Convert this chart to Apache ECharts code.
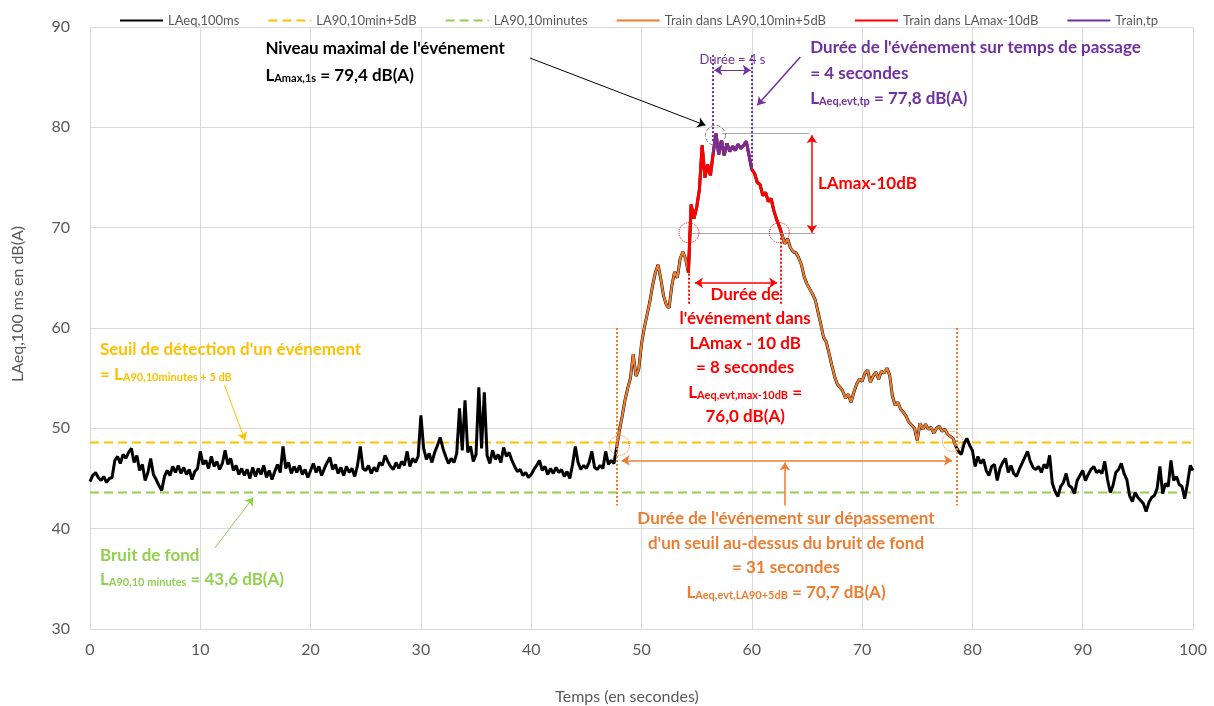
<!DOCTYPE html>
<html>
<head>
<meta charset="utf-8">
<script src="https://cdn.jsdelivr.net/npm/echarts@6/dist/echarts.min.js"></script>
<style>
  html, body { margin: 0; padding: 0; background: #fff; }
  #main { width: 1214px; height: 706px; }
</style>
</head>
<body>
<div id="main"></div>
<script>
  // LAeq,100ms, un point toutes les 0,25 s (de 0 à 100 s)
  var step = 0.25;
  var laeq = [
    44.7,45.3,45.6,45.1,44.8,45.2,44.6,45.0,45.1,46.8,47.2,46.5,47.4,47.0,47.6,48.0,46.6,47.3,45.8,46.4,
    44.8,45.6,47.0,45.4,44.9,44.3,43.8,45.2,45.8,45.3,46.2,45.6,46.3,45.5,46.1,45.4,45.9,44.9,45.7,46.0,
    47.7,46.4,46.8,46.0,47.2,46.2,46.7,45.9,46.5,47.8,46.4,47.0,45.8,46.3,45.4,46.0,45.3,45.9,45.0,46.1,
    45.2,46.0,45.4,46.3,45.1,45.8,44.9,45.7,46.4,45.6,48.2,46.0,46.6,45.5,46.2,45.6,46.3,45.4,45.9,45.1,
    45.8,46.5,45.6,46.2,45.3,46.0,46.6,47.1,45.9,46.4,45.5,46.1,45.3,46.2,45.6,46.0,45.2,46.3,48.2,46.0,
    45.8,46.3,45.5,46.1,45.7,46.6,46.3,47.3,46.7,46.2,45.9,46.6,46.0,46.7,46.3,47.7,46.2,47.0,46.6,47.2,
    51.3,48.0,46.9,47.5,46.6,47.6,48.3,49.1,48.0,47.2,46.5,47.0,46.6,47.5,52.0,47.8,52.8,47.6,48.2,46.7,
    47.4,54.1,48.0,53.6,47.3,46.5,47.8,46.9,47.4,46.6,48.1,47.2,47.6,46.8,46.2,45.7,45.9,45.3,45.6,45.1,
    45.4,45.9,46.3,46.8,45.8,46.2,45.4,46.0,45.5,46.1,45.6,45.9,45.2,45.7,45.0,46.4,48.2,46.6,45.9,46.3,
    46.0,46.6,47.7,46.1,45.9,46.3,46.0,47.7,46.4,46.8,46.5,48.1,49.8,51.2,52.8,54.0,55.0,57.4,55.2,55.9,
    58.4,60.0,61.3,62.6,64.2,65.5,66.3,64.9,63.2,62.3,62.0,64.2,65.6,65.0,66.9,67.6,66.9,65.5,72.3,70.9,
    72.0,73.8,78.2,75.0,76.3,75.2,77.4,79.4,77.3,78.7,77.2,78.4,77.6,78.1,77.7,78.3,77.9,78.2,78.6,77.2,
    75.8,75.4,74.5,74.3,73.2,73.5,72.6,72.9,71.7,70.8,70.1,69.3,68.4,68.9,68.0,67.6,67.5,67.0,66.3,65.1,
    64.4,63.9,63.4,62.8,61.6,60.4,59.1,58.6,57.5,56.3,55.2,54.4,54.1,53.7,53.0,53.4,52.6,53.6,54.4,54.9,
    54.7,55.5,55.8,54.6,55.2,55.6,54.9,55.7,55.5,56.0,55.3,53.2,52.3,52.6,51.9,51.6,51.2,50.6,50.3,50.0,
    48.8,50.5,49.9,50.4,49.9,50.1,49.5,50.0,50.2,49.7,49.9,49.4,49.2,49.0,48.2,47.7,47.4,48.5,49.0,48.3,
    47.8,46.2,47.2,46.5,46.9,45.8,45.3,46.2,46.4,44.8,46.0,46.6,47.0,45.6,46.3,45.5,45.2,45.9,46.5,47.1,
    47.7,46.7,46.1,45.9,46.2,45.6,46.4,46.0,47.3,44.5,43.7,43.2,44.2,44.6,45.5,44.3,44.1,43.5,44.8,45.3,
    45.8,44.8,45.4,45.9,46.2,45.6,45.8,45.5,46.7,44.9,43.6,44.3,45.6,45.9,46.5,45.5,44.9,43.3,42.7,43.6,
    43.1,42.8,42.5,41.7,42.6,43.1,43.3,44.0,46.2,43.5,44.5,44.2,46.8,44.8,45.2,44.4,44.2,43.0,44.5,46.3,
    45.8
  ];
  var la90 = 43.6;          // bruit de fond
  var seuil = 48.6;         // LA90 + 5 dB
  // bornes des trois "trains" (en secondes)
  var trainSeuil = [47.75, 78.5];
  var trainMax = [54.25, 62.75];
  var trainTp = [56.5, 60.0];

  var legendNames = ['LAeq,100ms', 'LA90,10min+5dB', 'LA90,10minutes',
    'Train dans LA90,10min+5dB', 'Train dans LAmax-10dB', 'Train,tp'];

  function pts(from, to) {
    var out = [];
    for (var i = 0; i < laeq.length; i++) {
      var t = i * step;
      if (t >= from - 1e-6 && t <= to + 1e-6) out.push([t, laeq[i]]);
    }
    return out;
  }

  var YEL = '#FFC000', GRN = '#92D050', ORA = '#ED7D31', RED = '#FF0000', PUR = '#7030A0';
  var FONT = 'Lato';

  // flèches et pointillés d'annotation (coordonnées t, dB)
  var arrows = [
    [[39.9, 86.9], [55.8, 80.2], '#000', 'solid', 1, 'end'],
    [[64.4, 87.0], [60.5, 82.2], PUR, 'solid', 1.5, 'end'],
    [[56.5, 87.2], [56.5, 78.6], PUR, 'dotted', 2, 'none'],
    [[60.0, 87.2], [60.0, 76.0], PUR, 'dotted', 2, 'none'],
    [[56.6, 85.7], [59.9, 85.7], PUR, 'solid', 1, 'both'],
    [[57.3, 79.4], [65.2, 79.4], '#a6a6a6', 'solid', 1, 'none'],
    [[54.6, 69.4], [65.7, 69.4], '#a6a6a6', 'solid', 1, 'none'],
    [[65.45, 79.2], [65.45, 69.5], RED, 'solid', 1.5, 'both'],
    [[54.3, 69.4], [54.3, 62.3], RED, 'dotted', 2, 'none'],
    [[62.6, 69.4], [62.6, 62.3], RED, 'dotted', 2, 'none'],
    [[54.85, 64.5], [62.3, 64.5], RED, 'solid', 1.5, 'both'],
    [[47.8, 60.0], [47.8, 42.3], ORA, 'dotted', 2, 'none'],
    [[78.6, 60.0], [78.6, 42.3], ORA, 'dotted', 2, 'none'],
    [[48.2, 46.8], [78.15, 46.8], ORA, 'solid', 1.5, 'both'],
    [[63.0, 42.3], [63.0, 46.6], ORA, 'solid', 1.5, 'end'],
    [[12.2, 54.3], [14.05, 48.8], YEL, 'solid', 1, 'end'],
    [[11.3, 38.05], [14.8, 43.1], GRN, 'solid', 1, 'end']
  ];
  var circles = [
    [[56.7, 79.2], '#7f7f7f', 'dashed'],
    [[54.3, 69.5], RED, 'dotted'],
    [[62.5, 69.5], RED, 'dotted'],
    [[48.0, 48.3], ORA, 'dotted'],
    [[78.2, 48.7], ORA, 'dotted']
  ];

  var markLineData = arrows.map(function (a) {
    return [
      { coord: a[0], symbol: a[5] == 'both' ? 'arrow' : 'none', symbolSize: 8 },
      { coord: a[1], symbol: a[5] == 'none' ? 'none' : 'arrow', symbolSize: 8,
        lineStyle: { color: a[2], type: a[3], width: a[4] } }
    ];
  });
  var markPointData = circles.map(function (c) {
    return { coord: c[0], symbol: 'circle', symbolSize: 20,
      itemStyle: { color: 'rgba(0,0,0,0)', borderColor: c[1], borderWidth: 1, borderType: c[2] } };
  });

  var chart = echarts.init(document.getElementById('main'));
  chart.setOption({
    animation: false,
    backgroundColor: '#fff',
    textStyle: { fontFamily: FONT },
    grid: { left: 90, right: 21, top: 27, bottom: 77 },
    legend: {
      data: legendNames,
      top: 9,
      left: 114,
      itemWidth: 43,
      itemHeight: 12,
      itemGap: 28,
      itemStyle: { opacity: 0 },
      textStyle: { fontSize: 13, color: '#595959', fontFamily: FONT }
    },
    xAxis: {
      type: 'value', min: 0, max: 100, interval: 10,
      axisLine: { lineStyle: { color: '#d9d9d9' } },
      axisTick: { show: false },
      axisLabel: { fontSize: 16, color: '#595959', margin: 13 },
      splitLine: { lineStyle: { color: '#d9d9d9' } }
    },
    yAxis: {
      type: 'value', min: 30, max: 90, interval: 10,
      axisLine: { show: false },
      axisTick: { show: false },
      axisLabel: { fontSize: 16, color: '#595959', margin: 20 },
      splitLine: { lineStyle: { color: '#d9d9d9' } }
    },
    series: [
      { name: 'LAeq,100ms', type: 'line', data: pts(0, 100), symbol: 'none',
        lineStyle: { color: '#000', width: 3 }, itemStyle: { color: '#000' }, z: 2 },
      { name: 'LA90,10min+5dB', type: 'line', data: [[0, seuil], [100, seuil]], symbol: 'none',
        lineStyle: { color: YEL, width: 2, type: [9, 5] }, itemStyle: { color: YEL }, z: 1 },
      { name: 'LA90,10minutes', type: 'line', data: [[0, la90], [100, la90]], symbol: 'none',
        lineStyle: { color: GRN, width: 2, type: [9, 5] }, itemStyle: { color: GRN }, z: 1 },
      { name: 'Train dans LA90,10min+5dB', type: 'line', data: pts(trainSeuil[0], trainSeuil[1]), symbol: 'none',
        lineStyle: { color: ORA, width: 2.2 }, itemStyle: { color: ORA }, z: 3 },
      { name: 'Train dans LAmax-10dB', type: 'line', data: pts(trainMax[0], trainMax[1]), symbol: 'none',
        lineStyle: { color: RED, width: 3 }, itemStyle: { color: RED }, z: 4 },
      { name: 'Train,tp', type: 'line', data: pts(trainTp[0], trainTp[1]), symbol: 'none',
        lineStyle: { color: PUR, width: 2.6 }, itemStyle: { color: PUR }, z: 5 },
      { name: 'annotations', type: 'line', data: [], z: 6, silent: true,
        markLine: { silent: true, animation: false, label: { show: false }, data: markLineData },
        markPoint: { silent: true, animation: false, label: { show: false }, data: markPointData } }
    ]
  });

  // textes d'annotation, placés en coordonnées du graphe
  var rich = function (color, size) {
    return {
      b: { fontSize: size, fontWeight: 'bold', fill: color, fontFamily: FONT, verticalAlign: 'middle' },
      s: { fontSize: 11, fontWeight: 'bold', fill: color, fontFamily: FONT, verticalAlign: 'bottom', padding: [6, 0, 0, 0] }
    };
  };
  var notes = [
    [15.9, 87.9, '{b|Niveau maximal de l\'événement}', '#000', 'left'],
    [15.9, 85.2, '{b|L}{s|Amax,1s}{b| = 79,4 dB(A)}', '#000', 'left'],
    [65.3, 88.0, '{b|Durée de l\'événement sur temps de passage}', PUR, 'left'],
    [65.3, 85.4, '{b|= 4 secondes}', PUR, 'left'],
    [65.3, 82.9, '{b|L}{s|Aeq,evt,tp}{b| = 77,8 dB(A)}', PUR, 'left'],
    [66.0, 74.4, '{b|LAmax-10dB}', RED, 'left'],
    [59.4, 63.3, '{b|Durée de}', RED, 'center'],
    [59.4, 60.9, '{b|l\'événement dans}', RED, 'center'],
    [59.4, 58.5, '{b|LAmax - 10 dB}', RED, 'center'],
    [59.4, 56.1, '{b|= 8 secondes}', RED, 'center'],
    [59.4, 53.6, '{b|L}{s|Aeq,evt,max-10dB}{b| =}', RED, 'center'],
    [59.4, 51.2, '{b|76,0 dB(A)}', RED, 'center'],
    [63.1, 41.05, '{b|Durée de l\'événement sur dépassement}', ORA, 'center'],
    [63.1, 38.55, '{b|d\'un seuil au-dessus du bruit de fond}', ORA, 'center'],
    [63.1, 36.15, '{b|= 31 secondes}', ORA, 'center'],
    [63.1, 33.65, '{b|L}{s|Aeq,evt,LA90+5dB}{b| = 70,7 dB(A)}', ORA, 'center'],
    [0.9, 57.9, '{b|Seuil de détection d\'un événement}', YEL, 'left'],
    [0.9, 55.4, '{b|= L}{s|A90,10minutes + 5 dB}', YEL, 'left'],
    [0.9, 37.35, '{b|Bruit de fond}', GRN, 'left'],
    [0.9, 34.9, '{b|L}{s|A90,10 minutes}{b| = 43,6 dB(A)}', GRN, 'left']
  ];
  var graphics = notes.map(function (n) {
    var p = chart.convertToPixel({ gridIndex: 0 }, [n[0], n[1]]);
    return { type: 'text', x: p[0], y: p[1], z: 100,
      style: { text: n[2], rich: rich(n[3], 17), fill: n[3], align: n[4], verticalAlign: 'middle' } };
  });
  var pd = chart.convertToPixel({ gridIndex: 0 }, [58.25, 86.7]);
  graphics.push({ type: 'text', x: pd[0], y: pd[1], z: 100,
    style: { text: 'Durée = 4 s', fontSize: 13, fill: PUR, fontFamily: FONT, align: 'center', verticalAlign: 'middle' } });
  graphics.push({ type: 'text', x: 18, y: 304, rotation: Math.PI / 2, z: 100,
    style: { text: 'LAeq,100 ms en dB(A)', fontSize: 16, fill: '#595959', fontFamily: FONT, align: 'center', verticalAlign: 'middle' } });
  graphics.push({ type: 'text', x: 627, y: 697, z: 100,
    style: { text: 'Temps (en secondes)', fontSize: 16, fill: '#595959', fontFamily: FONT, align: 'center', verticalAlign: 'middle' } });
  chart.setOption({ graphic: graphics });
</script>
</body>
</html>
